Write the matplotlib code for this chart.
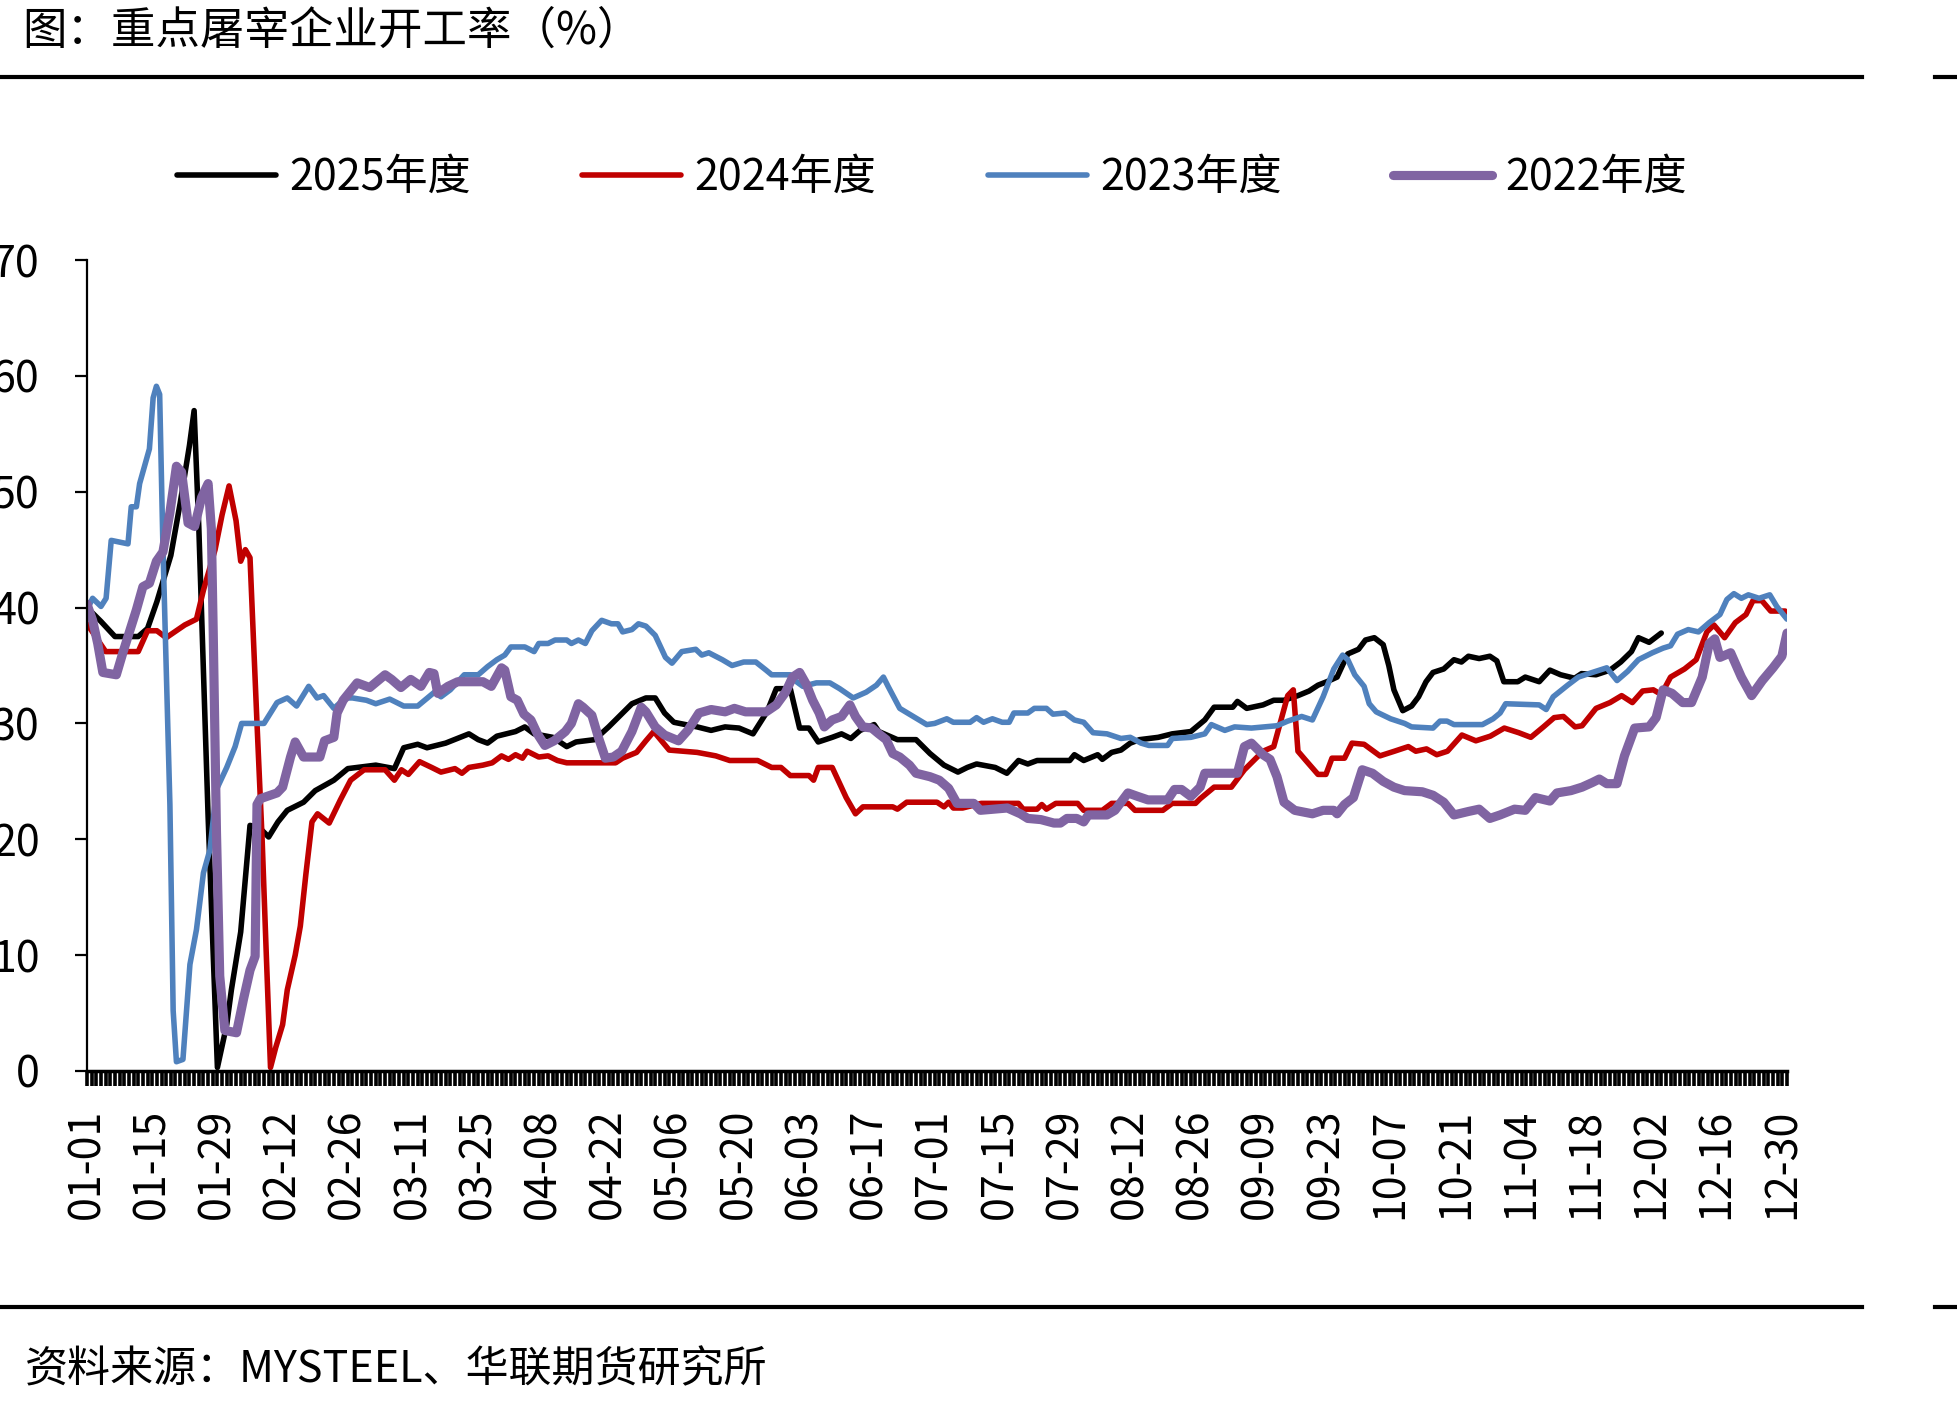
import matplotlib
matplotlib.use('Agg')
import matplotlib.pyplot as plt
from matplotlib.lines import Line2D
import pandas as pd

plt.rcParams['font.family'] = ['Noto Sans CJK SC', 'DejaVu Sans']
plt.rcParams['axes.unicode_minus'] = False

# x 轴刻度（按 2024 年日历，14 天一个标签）
tick_labels = ['01-01', '01-15', '01-29', '02-12', '02-26', '03-11', '03-25',
               '04-08', '04-22', '05-06', '05-20', '06-03', '06-17', '07-01',
               '07-15', '07-29', '08-12', '08-26', '09-09', '09-23', '10-07',
               '10-21', '11-04', '11-18', '12-02', '12-16', '12-30']

# 各年度数据：日序号（1月1日=0）与开工率(%)
day_2025 = [0, 3, 6, 11, 13, 15, 18, 20, 22, 23, 24, 26, 28, 30, 31, 33, 35, 37, 39,
            41, 43, 46.5, 49, 53, 56, 62, 66, 68, 71, 73, 77, 82, 84, 86, 88, 92, 94,
            96, 100, 103, 105, 109, 112, 115, 117, 120, 122, 124, 126, 131, 134, 137,
            140, 143, 146, 148, 151, 153, 155, 157, 160, 162, 164, 166, 169, 170, 174,
            178, 181, 184, 187, 189, 191, 195, 197.5, 200, 202, 204, 211, 212, 214,
            217, 218, 220, 222, 224, 226, 230, 233, 237, 240, 242, 246, 247, 249,
            252.5, 254.8, 257, 260, 262.4, 264.3, 266.2, 268.4, 270.7, 273, 274.5,
            276.4, 278.3, 279.5, 280.6, 282.5, 284.4, 285.9, 287.5, 289, 291.3, 293.5,
            295.1, 296.6, 298.9, 301.2, 302.7, 304.2, 307.2, 308.8, 311.8, 314.1,
            316.4, 319.4, 320.9, 324, 327, 329.3, 331.6, 333.1, 335.4, 338]
val_2025 = [40.0, 38.8, 37.5, 37.5, 38.2, 40.5, 44.5, 49.0, 54.0, 57.0, 47.0, 22.0, 0.3,
            4.0, 7.0, 12.0, 21.2, 21.0, 20.2, 21.5, 22.5, 23.2, 24.2, 25.1, 26.1, 26.4,
            26.1, 27.9, 28.2, 27.9, 28.3, 29.1, 28.6, 28.3, 28.9, 29.3, 29.7, 29.1,
            28.8, 28.0, 28.4, 28.6, 29.7, 30.9, 31.7, 32.2, 32.2, 30.9, 30.1, 29.7,
            29.4, 29.7, 29.6, 29.1, 31.0, 33.0, 33.0, 29.6, 29.6, 28.4, 28.8, 29.1,
            28.7, 29.4, 29.9, 29.3, 28.6, 28.6, 27.4, 26.4, 25.8, 26.2, 26.5, 26.2,
            25.7, 26.8, 26.5, 26.8, 26.8, 27.3, 26.8, 27.3, 26.9, 27.5, 27.7, 28.3,
            28.6, 28.8, 29.1, 29.3, 30.3, 31.4, 31.4, 31.9, 31.3, 31.6, 32.0, 32.0,
            32.4, 32.8, 33.3, 33.6, 34.0, 36.0, 36.4, 37.2, 37.4, 36.8, 35.0, 32.9,
            31.1, 31.5, 32.3, 33.6, 34.4, 34.7, 35.5, 35.3, 35.8, 35.6, 35.8, 35.4,
            33.6, 33.6, 34.0, 33.6, 34.6, 34.2, 33.9, 34.3, 34.2, 34.6, 35.3, 36.2,
            37.4, 37.0, 37.8]

day_2024 = [0, 4, 11, 13, 15, 17, 21, 23.5, 25, 27.5, 29, 30.5, 32, 33, 34, 35, 36.5,
            37.6, 38.5, 39.4, 40.5, 42, 43, 44.7, 45.8, 47, 48.3, 49.5, 52, 54.4, 56.6,
            59.5, 64, 66, 67.5, 69, 71.4, 74, 76, 79, 80.5, 82, 85, 87, 89, 90.5, 92,
            93.5, 94.5, 97, 99, 101, 103, 113.5, 115, 118, 120, 121.7, 125, 131, 135,
            138, 144, 147, 149, 151, 155, 156, 157, 160, 163, 165, 166.6, 173, 174,
            176, 182.5, 184, 185, 186, 188, 192, 200, 201, 204, 205, 206, 208, 212.7,
            214, 218, 220, 223.5, 225, 231, 233, 238, 239, 242, 245.7, 248.5, 250,
            252.5, 254.8, 256.3, 257.8, 259, 260, 261.7, 264.3, 266, 267.3, 270,
            271.6, 274.2, 277.6, 280.7, 283.7, 285.3, 287.6, 289.8, 292.1, 295.2,
            298.2, 301.3, 304.3, 307.4, 310, 312.7, 315, 317, 319.5, 321, 324, 327,
            329.5, 331.8, 334, 336.3, 338, 340, 343, 345.5, 347.8, 349.3, 351.6,
            353.9, 356.2, 357.7, 359.6, 361.5, 364.6, 365]
val_2024 = [38.6, 36.2, 36.2, 38.0, 38.0, 37.4, 38.5, 39.0, 41.5, 45.0, 48.0, 50.5,
            47.5, 44.0, 45.0, 44.3, 30.0, 20.0, 10.0, 0.3, 2.0, 4.0, 7.0, 10.0, 12.5,
            17.0, 21.5, 22.2, 21.4, 23.4, 25.1, 26.0, 26.0, 25.1, 26.0, 25.6, 26.7,
            26.2, 25.8, 26.1, 25.7, 26.2, 26.4, 26.6, 27.2, 26.9, 27.3, 27.0, 27.6,
            27.1, 27.2, 26.8, 26.6, 26.6, 27.0, 27.5, 28.5, 29.3, 27.7, 27.5, 27.2,
            26.8, 26.8, 26.2, 26.2, 25.5, 25.5, 25.1, 26.2, 26.2, 23.6, 22.2, 22.8,
            22.8, 22.6, 23.2, 23.2, 22.8, 23.2, 22.7, 22.7, 23.1, 23.1, 22.6, 22.6,
            23.0, 22.6, 23.1, 23.1, 22.5, 22.5, 23.1, 23.1, 22.5, 22.5, 23.1, 23.1,
            23.5, 24.5, 24.5, 26.0, 26.6, 27.6, 28.0, 30.2, 32.4, 32.9, 27.6, 26.8,
            25.6, 25.6, 27.0, 27.0, 28.3, 28.2, 27.2, 27.6, 28.0, 27.6, 27.8, 27.3,
            27.6, 29.0, 28.5, 28.9, 29.6, 29.2, 28.8, 29.7, 30.5, 30.6, 29.7, 29.8,
            31.3, 31.8, 32.4, 31.8, 32.8, 32.9, 32.5, 34.0, 34.7, 35.5, 37.9, 38.5,
            37.4, 38.7, 39.4, 40.6, 40.6, 39.7, 39.7, 39.3]

day_2023 = [0, 1.2, 3, 4.1, 5.2, 8.8, 9.5, 10.6, 11.3, 12.7, 13.4, 14.2, 14.9, 15.6,
            16.3, 17.8, 18.5, 19.2, 20.6, 22.1, 23.5, 25, 26.4, 27.8, 30, 31.8, 33.2,
            38, 40.8, 43, 45, 47.6, 49.4, 50.8, 53, 55.5, 57, 60, 62, 65, 68, 71, 72.5,
            74.6, 76, 78, 81, 84, 86, 88, 89.7, 91, 94, 96, 97, 99, 100.5, 103, 104,
            105.5, 107, 108.4, 110.5, 112.6, 114, 115, 117, 118.4, 120, 122, 124.2,
            125.6, 127.7, 130.7, 132, 133.5, 136.4, 138.5, 141, 143.6, 145.8, 147,
            151, 152, 153.7, 156.6, 159.5, 161.6, 164.5, 167.3, 169.5, 171, 172,
            174.5, 177.4, 180.3, 182, 184.6, 186, 189.6, 191, 192.5, 194.4, 196.5,
            198, 199, 202, 203.4, 206, 207.4, 210, 212, 214, 216, 219, 222, 224,
            226.3, 228, 232, 233, 237, 240, 241.4, 244.3, 246.4, 250, 255.5, 257.8,
            260.8, 263.1, 265.4, 267.7, 269.6, 270.7, 272.2, 274.2, 275.3, 276.8,
            279.9, 282.9, 284.4, 289, 290.5, 292, 293.5, 299.6, 301.9, 303.4, 304.6,
            311.8, 313.3, 314.8, 317.9, 320.2, 323.2, 326.3, 328.5, 330.8, 333.1,
            336.1, 338.4, 340, 341.5, 343.8, 346, 348.3, 350.6, 352.1, 353.6, 355.2,
            356.7, 359, 361.3, 362.8, 365]
val_2023 = [39.8, 40.8, 40.1, 40.8, 45.8, 45.5, 48.7, 48.7, 50.7, 52.7, 53.7, 58.1,
            59.1, 58.4, 45.3, 23.0, 5.2, 0.8, 1.0, 9.2, 12.2, 17.1, 19.1, 24.3, 26.2,
            28.0, 30.0, 30.0, 31.8, 32.2, 31.5, 33.2, 32.2, 32.4, 31.3, 32.2, 32.2,
            32.0, 31.7, 32.1, 31.5, 31.5, 32.0, 32.7, 32.3, 32.9, 34.2, 34.2, 34.9,
            35.5, 35.9, 36.6, 36.6, 36.2, 36.9, 36.9, 37.2, 37.2, 36.9, 37.2, 36.9,
            38.0, 38.9, 38.6, 38.6, 37.9, 38.1, 38.6, 38.4, 37.6, 35.7, 35.2, 36.2,
            36.4, 35.9, 36.1, 35.5, 35.0, 35.3, 35.3, 34.6, 34.2, 34.2, 33.7, 33.2,
            33.5, 33.5, 33.0, 32.2, 32.7, 33.3, 34.0, 33.2, 31.3, 30.6, 29.9, 30.0,
            30.4, 30.1, 30.1, 30.5, 30.1, 30.4, 30.1, 30.1, 30.9, 30.9, 31.3, 31.3,
            30.8, 30.9, 30.3, 30.1, 29.2, 29.1, 28.7, 28.8, 28.3, 28.1, 28.1, 28.7,
            28.8, 29.1, 29.9, 29.4, 29.7, 29.6, 29.8, 30.2, 30.6, 30.3, 32.3, 34.7,
            35.9, 35.5, 34.2, 33.2, 31.7, 31.0, 30.4, 30.0, 29.7, 29.6, 30.2, 30.2,
            29.9, 29.9, 30.4, 30.9, 31.7, 31.6, 31.2, 32.3, 33.3, 34.0, 34.4, 34.8,
            33.7, 34.5, 35.5, 36.1, 36.5, 36.7, 37.7, 38.1, 37.9, 38.7, 39.4, 40.7,
            41.2, 40.8, 41.1, 40.8, 41.1, 40.1, 39.0]

day_2022 = [0, 1.2, 2.3, 3.4, 6.3, 7.7, 9.1, 10.6, 12, 13.4, 14.9, 16.3, 17.8, 19.2,
            20.3, 21.7, 23.1, 24.6, 26, 26.7, 27.1, 27.8, 28.5, 29.6, 32.1, 33.6, 35,
            36.1, 36.5, 37.2, 40.8, 42, 43.7, 44.7, 46.5, 50, 51, 53, 53.7, 55, 58,
            60.7, 64, 65.4, 67.4, 69.5, 71.7, 73.5, 74.5, 75.3, 77.5, 79.6, 85, 86.8,
            89, 89.7, 91, 92.4, 93.8, 95.3, 96.7, 98.3, 100.3, 102.7, 104, 105.5,
            106.5, 108.4, 109.8, 111.3, 113, 114.8, 117, 119, 120, 122, 124, 127, 129,
            131.4, 134, 137, 139, 141.4, 145.8, 148, 150, 151.5, 153, 154.4, 155.8,
            157.2, 158.3, 160, 162, 163.8, 165, 166.6, 168.5, 170, 171.6, 173, 174.5,
            176.6, 178, 181, 183, 185, 186.8, 190.4, 191.8, 197.6, 200.4, 202, 204.8,
            207.6, 209, 210.4, 212.5, 214, 215, 219, 220.7, 222, 223.5, 225.6, 227.8,
            232, 233.5, 235, 237, 239, 240, 247, 248.5, 250, 252.5, 254, 255.5, 257,
            259.3, 263.1, 265.4, 267.7, 268.4, 270, 271.9, 273.8, 276, 278.3, 280.6,
            282.9, 286.7, 289, 291.3, 293.5, 296.6, 298.9, 301.2, 303.4, 306.5, 308.8,
            311, 314.1, 315.6, 318.6, 321, 323.2, 324.7, 326.3, 328.5, 330.1, 332.3,
            335.4, 336.9, 338.4, 340.3, 342.6, 344.5, 346.8, 348.3, 349.5, 350.6,
            352.9, 355.2, 357.4, 359.7, 362, 363.9, 365]
val_2022 = [40.3, 38.9, 36.9, 34.4, 34.2, 36.1, 37.9, 39.8, 41.8, 42.1, 44.0, 44.8,
            48.2, 52.2, 51.7, 47.3, 47.0, 49.5, 50.7, 46.8, 37.9, 20.6, 8.2, 3.5, 3.3,
            6.2, 8.7, 9.9, 23.0, 23.5, 24.0, 24.5, 27.1, 28.4, 27.1, 27.1, 28.5, 28.8,
            30.9, 32.0, 33.5, 33.1, 34.2, 33.8, 33.1, 33.8, 33.2, 34.4, 34.3, 32.6,
            33.2, 33.6, 33.6, 33.2, 34.8, 34.6, 32.3, 32.0, 30.8, 30.3, 29.1, 28.1,
            28.5, 29.3, 30.0, 31.7, 31.4, 30.7, 28.8, 27.0, 27.1, 27.6, 29.3, 31.4,
            31.0, 29.7, 29.0, 28.5, 29.4, 30.9, 31.2, 31.0, 31.3, 31.0, 31.0, 31.6,
            32.7, 34.0, 34.4, 33.4, 32.0, 30.9, 29.7, 30.3, 30.6, 31.6, 30.6, 29.7,
            29.6, 29.1, 28.6, 27.4, 27.1, 26.4, 25.7, 25.4, 25.1, 24.4, 23.1, 23.1,
            22.5, 22.7, 22.2, 21.8, 21.7, 21.4, 21.4, 21.8, 21.8, 21.5, 22.1, 22.1,
            22.5, 23.2, 24.0, 23.7, 23.4, 23.4, 24.3, 24.3, 23.7, 24.5, 25.7, 25.7,
            28.0, 28.3, 27.3, 26.9, 25.4, 23.2, 22.5, 22.2, 22.5, 22.5, 22.2, 23.0,
            23.6, 26.0, 25.7, 25.0, 24.5, 24.2, 24.1, 23.8, 23.2, 22.1, 22.4, 22.6,
            21.8, 22.1, 22.6, 22.5, 23.6, 23.3, 24.0, 24.2, 24.5, 24.9, 25.2, 24.8,
            24.8, 27.2, 29.6, 29.7, 30.5, 32.9, 32.6, 31.8, 31.8, 34.0, 36.9, 37.3,
            35.7, 36.1, 34.0, 32.4, 33.7, 34.8, 35.8, 37.8]

series = [
    (day_2025, val_2025, '2025年度', '#000000', 4.0),
    (day_2024, val_2024, '2024年度', '#C00000', 4.0),
    (day_2023, val_2023, '2023年度', '#4F81BD', 4.0),
    (day_2022, val_2022, '2022年度', '#8064A2', 6.6),
]

fig = plt.figure(figsize=(19.57, 14.07), dpi=100)
ax = fig.add_axes([87 / 1957, 336 / 1407, 1700 / 1957, 811 / 1407])

handles = []
for d, v, name, c, lw in series:
    h, = ax.plot(d, v, color=c, lw=lw, label=name,
                 solid_joinstyle='round', solid_capstyle='round')
    handles.append(h)

ax.set_xlim(0, 365)
ax.set_ylim(0, 70)
tick_pos = [pd.Timestamp('2024-' + t).dayofyear - 1 for t in tick_labels]
ax.set_xticks(tick_pos)
ax.set_xticklabels(tick_labels, rotation=90)
ax.set_xticks(range(0, 366), minor=True)
ax.tick_params(axis='x', which='major', length=11, width=2.6, pad=16, labelsize=31)
ax.tick_params(axis='x', which='minor', length=11, width=2.6)
ax.set_yticks(range(0, 71, 10))
ax.tick_params(axis='y', length=9, width=1.6, pad=25, labelsize=31)
for s in ['top', 'right']:
    ax.spines[s].set_visible(False)
ax.spines['left'].set_linewidth(1.6)
ax.spines['bottom'].set_linewidth(2.5)

fig.legend(handles=handles, ncol=4, loc='center left',
           bbox_to_anchor=(177 / 1957, 1 - 178 / 1407), frameon=False,
           fontsize=31, handlelength=2.3, handletextpad=0.3, columnspacing=2.6,
           borderaxespad=0, borderpad=0)

# 标题、来源和上下横线
fig.text(22 / 1957, 1 - 31 / 1407, '图：重点屠宰企业开工率（%）', fontsize=32,
         ha='left', va='center')
fig.text(25 / 1957, 1 - 1370 / 1407, '资料来源：MYSTEEL、华联期货研究所', fontsize=31,
         ha='left', va='center')
for y in [1 - 77 / 1407, 1 - 1307 / 1407]:
    fig.add_artist(Line2D([0, 1862 / 1957], [y, y], transform=fig.transFigure,
                          color='black', lw=3))
    fig.add_artist(Line2D([1935 / 1957, 1], [y, y], transform=fig.transFigure,
                          color='black', lw=3))

fig.savefig('out.png', dpi=100)
